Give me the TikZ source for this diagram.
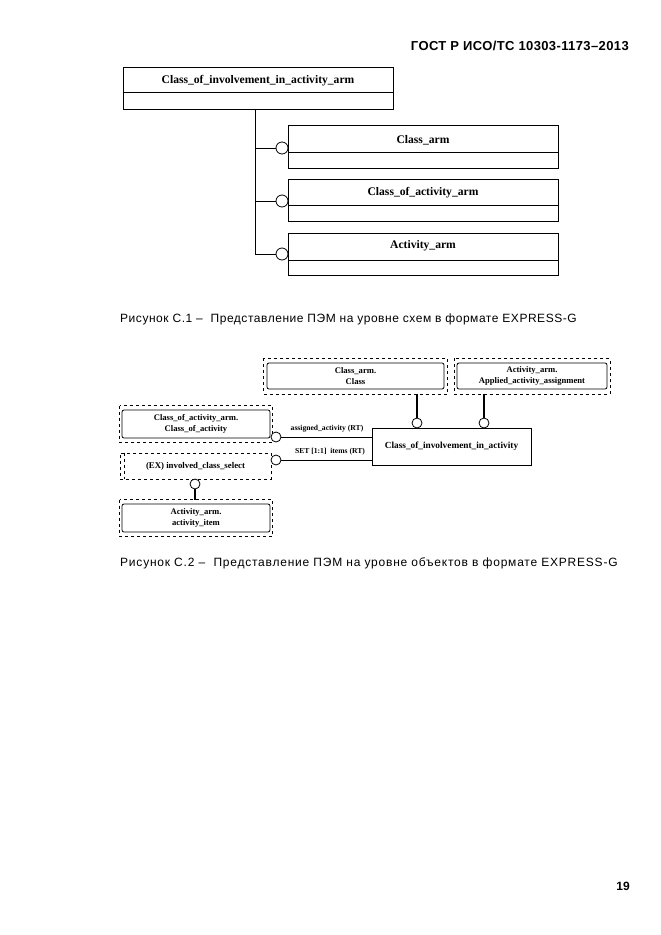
\documentclass[tikz,border=0pt]{standalone}
\usepackage{fontspec}
\setmainfont{Liberation Serif}
\setsansfont{Liberation Sans}
\usetikzlibrary{calc}
\tikzset{
  boxone/.style={draw, line width=0.8pt, minimum width=270pt, inner sep=0pt},
  lblone/.style={font=\bfseries\fontsize{11.6}{13}\selectfont, inner sep=0pt},
  circ/.style={draw, circle, line width=0.8pt, minimum size=12pt, inner sep=0pt, fill=white},
  circs/.style={draw, circle, line width=0.8pt, minimum size=10pt, inner sep=0pt, fill=white},
  refbox/.style={draw, rounded corners=2pt, line width=0.8pt, inner sep=0pt, align=center,
    font=\bfseries\fontsize{8.6}{10.5}\selectfont},
  selbox/.style={draw, dashed, line width=0.6pt, inner sep=0pt, align=center,
    font=\bfseries\fontsize{8.8}{10.5}\selectfont},
  entbox/.style={draw, line width=0.8pt, inner sep=0pt, align=center,
    font=\bfseries\fontsize{9.3}{11}\selectfont},
  rel/.style={line width=0.6pt},
  thick rel/.style={line width=2.6pt},
  attr/.style={font=\bfseries\fontsize{7.6}{9}\selectfont, inner sep=0pt},
  caption/.style={font=\sffamily\fontsize{12}{14}\selectfont\addfontfeature{LetterSpace=4.5}, anchor=west, inner sep=0pt},
  captionb/.style={font=\sffamily\fontsize{12}{14}\selectfont\addfontfeature{LetterSpace=6.5}, anchor=west, inner sep=0pt},
}
\begin{document}
\begin{tikzpicture}[x=1pt, y=-1pt]
\useasboundingbox (0,0) rectangle (661,935);
\fill[white] (0,0) rectangle (661,935);

% header and page number
\node[font=\sffamily\bfseries\fontsize{13}{15}\selectfont\addfontfeature{LetterSpace=3}, anchor=east, inner sep=0pt] (hdr) at (629,46) {ГОСТ Р ИСО/ТС 10303-1173–2013};
\node[font=\sffamily\bfseries\fontsize{12}{14}\selectfont, anchor=east, inner sep=0pt] (pg) at (630,886) {19};

% ---------- Figure C.1 ----------
\node[boxone, minimum height=42pt] (coia) at (258,88) {};
\draw[line width=0.8pt] ($(coia.north west)+(0,26)$) -- ($(coia.north east)+(0,26)$);
\node[lblone] (coiat) at (258,81) {Class\_of\_involvement\_in\_activity\_arm};

\node[boxone, minimum height=43pt] (ca) at (423,146.5) {};
\draw[line width=0.8pt] ($(ca.north west)+(0,28)$) -- ($(ca.north east)+(0,28)$);
\node[lblone] (cat) at (423,140) {Class\_arm};

\node[boxone, minimum height=42pt] (coa) at (423,200) {};
\draw[line width=0.8pt] ($(coa.north west)+(0,27)$) -- ($(coa.north east)+(0,27)$);
\node[lblone] (coat) at (423,193) {Class\_of\_activity\_arm};

\node[boxone, minimum height=42pt] (aa) at (423,254) {};
\draw[line width=1.4pt] ($(aa.north west)+(0,28)$) -- ($(aa.north east)+(0,28)$);
\node[lblone] (aat) at (423,246) {Activity\_arm};

\node[circ] (k1) at (282,148) {};
\node[circ] (k2) at (282,201) {};
\node[circ] (k3) at (282,254) {};
\coordinate (j0) at (255,109);
\draw[rel] (j0) |- (k3.west);
\draw[rel] (j0 |- k1) -- (k1.west);
\draw[rel] (j0 |- k2) -- (k2.west);

\node[caption] (cap1) at (120,319) {Рисунок С.1 –\ \ Представление ПЭМ на уровне схем в формате EXPRESS-G};

% ---------- Figure C.2 ----------
\node[refbox, minimum width=177pt, minimum height=26pt] (rc) at (355.5,376) {Class\_arm.\\Class};
\node[refbox, minimum width=150pt, minimum height=26pt] (raa) at (532,376) {Activity\_arm.\\Applied\_activity\_assignment};
\node[refbox, minimum width=148pt, minimum height=28pt] (rcoa) at (196,424) {Class\_of\_activity\_arm.\\Class\_of\_activity};
\node[refbox, minimum width=148pt, minimum height=28pt] (rai) at (196,518) {Activity\_arm.\\activity\_item};
\foreach \n/\dx/\dy in {rc/3/4.5, raa/2.5/4.5, rcoa/2/4, rai/2/4}{
  \draw[dashed, line width=0.6pt] ($(\n.north west)+(-\dx,-\dy)$) rectangle ($(\n.south east)+(\dx,\dy)$);
}
\node[selbox, minimum width=151pt, minimum height=26pt] (sel) at (195.5,466) {(EX) involved\_class\_select};
\draw[dashed, line width=0.6pt] ($(sel.north west)+(5,0)$) -- ($(sel.south west)+(5,0)$);

\node[entbox, minimum width=159pt, minimum height=37pt] (ent) at (451.5,446.5) {Class\_of\_involvement\_in\_activity};

% circles
\node[circs] (ka) at (276,437) {};
\node[circs] (ks) at (276,460) {};
\node[circs] (ksel) at (195,484) {};
\node[circs] (kc) at (417,423) {};
\node[circs] (kaa) at (484,423) {};

\draw[rel] (ka.east) -- (ent.west |- ka);
\draw[rel] (ks.east) -- (ent.west |- ks);
\draw[thick rel] (ksel.south) -- ($(rai.north -| ksel)+(0,-4)$);
\draw[thick rel] ($(rc.south -| kc)+(0,4.5)$) -- (kc.north);
\draw[thick rel] ($(raa.south -| kaa)+(0,4.5)$) -- (kaa.north);

\node[attr] (la) at (327,429) {assigned\_activity (RT)};
\node[attr] (ls) at (330,452) {SET [1:1]\ \ items (RT)};

\node[captionb] (cap2) at (120,563) {Рисунок С.2 –\ \ Представление ПЭМ на уровне объектов в формате EXPRESS-G};
\end{tikzpicture}
\end{document}
